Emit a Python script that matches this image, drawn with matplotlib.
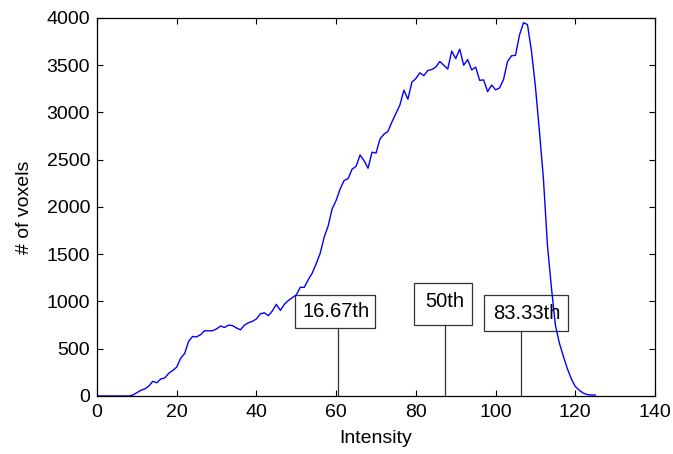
import matplotlib.pyplot as plt
from matplotlib.patches import Rectangle

plt.rcParams['font.family'] = ['Liberation Sans', 'DejaVu Sans']

# histogram of voxel intensities (one bin per intensity value)
intensity = list(range(0, 126))
counts = [
    0, 0, 0, 0, 0, 0, 0, 0, 0, 10,
    35, 60, 75, 105, 155, 140, 180, 190, 240, 270,
    305, 400, 450, 580, 630, 625, 650, 690, 690, 690,
    710, 740, 725, 750, 745, 720, 700, 750, 775, 790,
    815, 870, 880, 850, 900, 970, 905, 970, 1010, 1040,
    1070, 1150, 1150, 1230, 1300, 1400, 1510, 1680, 1800, 1980,
    2070, 2190, 2280, 2300, 2400, 2430, 2550, 2490, 2410, 2580,
    2570, 2720, 2770, 2800, 2900, 2990, 3080, 3236, 3140, 3320,
    3360, 3420, 3390, 3445, 3455, 3480, 3540, 3500, 3460, 3650,
    3570, 3670, 3500, 3560, 3450, 3480, 3340, 3345, 3220, 3290,
    3240, 3260, 3350, 3540, 3600, 3605, 3820, 3950, 3930, 3650,
    3270, 2800, 2300, 1600, 1150, 750, 560, 420, 290, 180,
    100, 60, 30, 15, 10, 10,
]

# percentile markers
pct_labels = ['16.67th', '50th', '83.33th']
pct_values = [60.4, 87.3, 106.5]

fig = plt.figure(figsize=(6.73, 4.54), dpi=100)
ax = fig.add_axes([0.1441, 0.1278, 0.8292, 0.8326])

ax.plot(intensity, counts, color='#0000ff', lw=1.0)

# box extents per marker: (left, right, bottom, top) offsets in data units
boxes = [(-10.8, 9.3, 720, 1070), (-7.8, 6.9, 755, 1200), (-9.4, 11.6, 685, 1070)]
text_y = [890, 1000, 870]
for lab, xv, (l, r, b, t), ty in zip(pct_labels, pct_values, boxes, text_y):
    ax.plot([xv, xv], [0, b], color='#333333', lw=0.9)
    ax.add_patch(Rectangle((xv + l, b), r - l, t - b, fill=False,
                           edgecolor='#333333', lw=0.9))
    ax.text(xv + (l + r) / 2 + 0.3, ty, lab, ha='center', va='center',
            fontsize=14.5, color='black')

ax.set_xlim(0, 140)
ax.set_ylim(0, 4000)
ax.set_xticks(range(0, 141, 20))
ax.set_yticks(range(0, 4001, 500))
ax.tick_params(direction='in', top=True, right=True, length=4,
               labelsize=14, width=0.8)
ax.tick_params(axis='x', pad=6)
ax.tick_params(axis='y', pad=5)
for s in ax.spines.values():
    s.set_linewidth(0.9)

ax.set_xlabel('Intensity', fontsize=14, labelpad=6)
ax.set_ylabel('# of voxels', fontsize=14, labelpad=10)

fig.savefig('out.png', dpi=100)
